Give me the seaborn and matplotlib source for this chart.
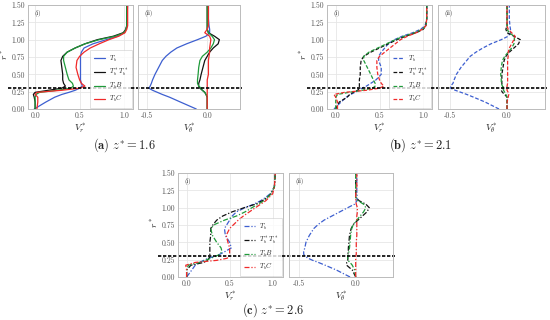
import matplotlib.pyplot as plt
import seaborn as sns

# radial positions shared by all profiles
r_star = [0.0, 0.1, 0.17, 0.21, 0.24, 0.27, 0.3, 0.33, 0.37, 0.42, 0.5, 0.6,
          0.7, 0.76, 0.82, 0.88, 0.94, 1.0, 1.05, 1.1, 1.15, 1.2, 1.3, 1.5]

labels = [r'$T_b$', r'$T_b^*T_b^*$', r'$T_bB$', r'$T_bC$']
colors = ['#3d5fd0', '#111111', '#1f9a3a', '#f02a2a']

# (a) z* = 1.6
a_vr_tb = [-0.01, 0.12, 0.22, 0.3, 0.38, 0.45, 0.5, 0.53, 0.52, 0.51, 0.51, 0.51, 0.51, 0.51, 0.52, 0.55, 0.65, 0.8, 0.93, 1.0, 1.02, 1.03, 1.03, 1.04]
a_vr_ts = [0.0, 0.0, -0.01, -0.02, 0.0, 0.15, 0.3, 0.34, 0.32, 0.31, 0.31, 0.3, 0.29, 0.31, 0.36, 0.45, 0.56, 0.7, 0.88, 0.99, 1.02, 1.03, 1.03, 1.03]
a_vr_tbb = [0.0, 0.0, 0.0, 0.01, 0.05, 0.25, 0.4, 0.43, 0.42, 0.38, 0.36, 0.34, 0.32, 0.32, 0.36, 0.45, 0.56, 0.72, 0.9, 1.0, 1.02, 1.03, 1.03, 1.03]
a_vr_tbc = [0.02, 0.03, 0.03, 0.0, 0.02, 0.3, 0.5, 0.56, 0.52, 0.5, 0.48, 0.46, 0.47, 0.5, 0.55, 0.62, 0.72, 0.83, 0.94, 1.01, 1.03, 1.04, 1.04, 1.04]
a_vt_tb = [-0.09, -0.22, -0.31, -0.37, -0.41, -0.45, -0.48, -0.47, -0.46, -0.45, -0.43, -0.4, -0.37, -0.34, -0.3, -0.25, -0.17, -0.08, -0.01, 0.02, 0.02, 0.015, 0.01, 0.01]
a_vt_ts = [0.0, 0.0, 0.0, -0.01, -0.02, -0.04, -0.06, -0.07, -0.07, -0.06, -0.05, -0.035, -0.02, 0.0, 0.02, 0.05, 0.09, 0.1, 0.06, 0.01, 0.0, 0.0, 0.0, 0.0]
a_vt_tbb = [0.0, 0.0, 0.0, -0.01, -0.02, -0.04, -0.05, -0.07, -0.08, -0.08, -0.075, -0.07, -0.06, -0.04, 0.0, 0.03, 0.05, 0.06, 0.04, 0.01, 0.0, 0.0, 0.0, 0.0]
a_vt_tbc = [0.0, 0.0, 0.0, 0.0, 0.0, 0.0, 0.0, 0.0, 0.0, 0.0, 0.01, 0.01, 0.01, 0.015, 0.02, 0.02, 0.025, 0.03, 0.02, -0.02, 0.0, 0.01, 0.01, 0.01]

# (b) z* = 2.1
b_vr_tb = [-0.02, 0.06, 0.12, 0.17, 0.22, 0.26, 0.3, 0.35, 0.4, 0.46, 0.52, 0.52, 0.49, 0.49, 0.52, 0.56, 0.6, 0.67, 0.76, 0.88, 0.97, 1.02, 1.04, 1.04]
b_vr_ts = [0.0, 0.04, 0.13, 0.16, 0.2, 0.25, 0.27, 0.27, 0.27, 0.27, 0.28, 0.28, 0.29, 0.32, 0.4, 0.5, 0.6, 0.7, 0.8, 0.92, 1.0, 1.03, 1.04, 1.04]
b_vr_tbb = [0.0, 0.0, 0.0, 0.02, 0.15, 0.3, 0.42, 0.45, 0.45, 0.43, 0.4, 0.36, 0.32, 0.32, 0.38, 0.48, 0.58, 0.68, 0.78, 0.9, 0.99, 1.03, 1.04, 1.04]
b_vr_tbc = [0.02, 0.02, 0.0, -0.02, 0.1, 0.35, 0.5, 0.55, 0.52, 0.5, 0.48, 0.47, 0.47, 0.5, 0.56, 0.62, 0.68, 0.74, 0.82, 0.92, 0.99, 1.03, 1.04, 1.04]
b_vt_tb = [-0.07, -0.19, -0.29, -0.35, -0.4, -0.45, -0.49, -0.49, -0.47, -0.46, -0.44, -0.4, -0.35, -0.32, -0.27, -0.21, -0.14, -0.05, 0.01, 0.03, 0.03, 0.025, 0.02, 0.02]
b_vt_ts = [0.0, 0.0, 0.0, -0.02, -0.04, -0.05, -0.03, -0.04, -0.045, -0.045, -0.045, -0.035, -0.025, -0.01, 0.02, 0.06, 0.1, 0.115, 0.06, 0.0, -0.01, 0.0, 0.0, 0.0]
b_vt_tbb = [0.0, 0.0, 0.0, -0.01, -0.02, -0.03, -0.03, -0.04, -0.05, -0.05, -0.055, -0.05, -0.04, -0.02, 0.01, 0.04, 0.06, 0.065, 0.06, 0.02, 0.0, 0.0, 0.0, 0.0]
b_vt_tbc = [0.0, 0.0, 0.01, 0.015, 0.01, 0.0, 0.0, 0.0, 0.005, 0.005, 0.005, 0.005, 0.005, 0.01, 0.01, 0.02, 0.04, 0.06, 0.07, 0.04, 0.01, 0.0, 0.0, 0.0]

# (c) z* = 2.6
c_vr_tb = [0.0, 0.06, 0.1, 0.15, 0.2, 0.25, 0.33, 0.39, 0.45, 0.52, 0.5, 0.45, 0.44, 0.47, 0.5, 0.53, 0.58, 0.68, 0.78, 0.86, 0.92, 0.97, 1.02, 1.03]
c_vr_ts = [0.0, 0.0, 0.05, 0.2, 0.24, 0.26, 0.27, 0.27, 0.27, 0.27, 0.27, 0.28, 0.28, 0.31, 0.35, 0.42, 0.53, 0.67, 0.8, 0.88, 0.94, 0.98, 1.02, 1.03]
c_vr_tbb = [0.0, 0.0, 0.02, 0.15, 0.22, 0.28, 0.34, 0.39, 0.41, 0.4, 0.35, 0.3, 0.28, 0.33, 0.44, 0.58, 0.68, 0.76, 0.83, 0.9, 0.94, 0.98, 1.02, 1.03]
c_vr_tbc = [0.0, 0.0, -0.01, 0.1, 0.35, 0.47, 0.5, 0.5, 0.5, 0.5, 0.48, 0.46, 0.5, 0.55, 0.6, 0.66, 0.73, 0.8, 0.86, 0.92, 0.96, 1.0, 1.02, 1.03]
c_vt_tb = [-0.05, -0.17, -0.27, -0.33, -0.38, -0.42, -0.45, -0.46, -0.46, -0.45, -0.44, -0.41, -0.37, -0.33, -0.28, -0.21, -0.14, -0.07, -0.01, 0.01, 0.015, 0.01, 0.01, 0.01]
c_vt_ts = [0.0, -0.03, -0.08, -0.08, -0.07, -0.07, -0.07, -0.07, -0.065, -0.065, -0.06, -0.055, -0.04, -0.02, 0.02, 0.06, 0.1, 0.12, 0.09, 0.03, 0.0, 0.0, 0.0, 0.0]
c_vt_tbb = [0.0, -0.01, -0.03, -0.05, -0.07, -0.07, -0.07, -0.065, -0.06, -0.055, -0.05, -0.045, -0.035, -0.02, 0.01, 0.04, 0.07, 0.09, 0.07, 0.02, 0.0, 0.0, 0.0, 0.0]
c_vt_tbc = [0.0, 0.0, 0.0, 0.0, 0.0, 0.0, 0.0, 0.005, 0.005, 0.005, 0.005, 0.01, 0.01, 0.01, 0.01, 0.01, 0.015, 0.015, 0.005, 0.0, 0.0, 0.0, 0.01, 0.01]

sns.set_style('whitegrid')
plt.rcParams['font.family'] = 'serif'
plt.rcParams['font.serif'] = ['cmr10']
plt.rcParams['mathtext.fontset'] = 'cm'
plt.rcParams['axes.formatter.use_mathtext'] = True
plt.rcParams['axes.unicode_minus'] = True

fig = plt.figure(figsize=(5.5, 3.2), dpi=100)


def px_axes(x0, x1, y0, y1):
    return fig.add_axes([x0 / 550, 1 - y1 / 320, (x1 - x0) / 550, (y1 - y0) / 320])


def style_ax(ax, xlim, xticks):
    ax.set_xlim(*xlim)
    ax.set_ylim(0, 1.5)
    ax.set_xticks(xticks)
    ax.set_yticks([0, 0.25, 0.5, 0.75, 1.0, 1.25, 1.5])
    ax.grid(True, color='#e6e6e6', lw=0.6)
    ax.tick_params(length=0, labelsize=5.5, labelcolor='#555555', pad=2)
    for s in ax.spines.values():
        s.set_color('#bbbbbb')
        s.set_linewidth(0.7)


def panel(box_l, box_r, vr, vt, ls, xlim_l, xlim_r, caption, cx, cy):
    ax1 = px_axes(*box_l)
    ax2 = px_axes(*box_r)
    for vals, lab, col in zip(vr, labels, colors):
        sns.lineplot(x=vals, y=r_star, ax=ax1, color=col, lw=0.9, ls=ls,
                     sort=False, estimator=None, label=lab)
    for vals, col in zip(vt, colors):
        sns.lineplot(x=vals, y=r_star, ax=ax2, color=col, lw=0.9, ls=ls,
                     sort=False, estimator=None, legend=False)
    style_ax(ax1, xlim_l, [0, 0.5, 1.0])
    style_ax(ax2, xlim_r, [-0.5, 0.0])
    ax1.yaxis.set_major_formatter(plt.FormatStrFormatter('%.2f'))
    ax1.xaxis.set_major_formatter(plt.FormatStrFormatter('%.1f'))
    ax2.xaxis.set_major_formatter(plt.FormatStrFormatter('%.1f'))
    ax2.set_yticklabels([])
    ax1.set_xlabel(r'$V_r^*$', fontsize=7, labelpad=1)
    ax2.set_xlabel(r'$V_\theta^*$', fontsize=7, labelpad=1)
    ax1.set_ylabel(r'$r^*$', fontsize=7, va='center')
    ax1.yaxis.set_label_coords(-0.225, 0.52)
    ax1.text(0.06, 0.9, '(i)', transform=ax1.transAxes, fontsize=4.5)
    ax2.text(0.06, 0.9, '(ii)', transform=ax2.transAxes, fontsize=4.5)
    # reference radius r* = 0.3
    ax1.axhline(0.3, xmin=-0.19, xmax=1.0, color='black', lw=1.2,
                ls=(0, (2, 1)), clip_on=False)
    ax2.axhline(0.3, xmin=-0.07, xmax=1.02, color='black', lw=1.2,
                ls=(0, (2, 1)), clip_on=False)
    leg = ax1.legend(loc='lower right', fontsize=5, handlelength=1.6,
                     borderaxespad=0.15, labelspacing=0.45, frameon=True,
                     fancybox=False, borderpad=0.5, handletextpad=0.6)
    leg.get_frame().set_edgecolor('#cccccc')
    leg.get_frame().set_linewidth(0.5)
    fig.text(cx / 550, 1 - cy / 320, caption, ha='center', va='center',
             fontsize=9)


panel((28, 133, 5, 109), (138, 240, 5, 109),
      [a_vr_tb, a_vr_ts, a_vr_tbb, a_vr_tbc], [a_vt_tb, a_vt_ts, a_vt_tbb, a_vt_tbc],
      '-', (-0.08, 1.1), (-0.57, 0.27), r'$\mathbf{(a)}\ z^{*}=1.6$', 124, 145)
panel((327, 432, 5, 109), (438, 545, 5, 109),
      [b_vr_tb, b_vr_ts, b_vr_tbb, b_vr_tbc], [b_vt_tb, b_vt_ts, b_vt_tbb, b_vt_tbc],
      (0, (3, 1.5)), (-0.1, 1.1), (-0.6, 0.33), r'$\mathbf{(b)}\ z^{*}=2.1$', 421, 145)
panel((178, 283, 173, 277), (289, 393, 173, 277),
      [c_vr_tb, c_vr_ts, c_vr_tbb, c_vr_tbc], [c_vt_tb, c_vt_ts, c_vt_tbb, c_vt_tbc],
      (0, (4, 1.5, 1, 1.5)), (-0.1, 1.12), (-0.59, 0.33), r'$\mathbf{(c)}\ z^{*}=2.6$', 273, 310)

fig.savefig('out.png', dpi=100)
